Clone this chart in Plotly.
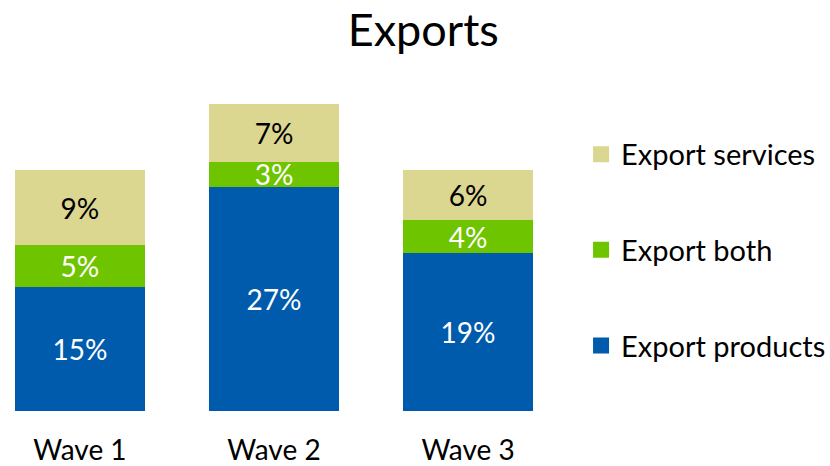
import plotly.graph_objects as go

waves = ["Wave 1", "Wave 2", "Wave 3"]
export_products = [15, 27, 19]
export_both = [5, 3, 4]
export_services = [9, 7, 6]

series = [
    ("Export products", export_products, "#005BAC", "white", 3),
    ("Export both", export_both, "#6FC400", "white", 2),
    ("Export services", export_services, "#DBD690", "black", 1),
]

FONT = "Lato, Calibri, sans-serif"

fig = go.Figure()
for name, vals, color, txtcolor, rank in series:
    fig.add_trace(go.Bar(
        x=waves, y=vals, name=name,
        marker=dict(color=color, line=dict(width=0)),
        text=[f"{v}%" for v in vals],
        textposition="inside", insidetextanchor="middle",
        textfont=dict(color=txtcolor, size=28, family=FONT),
        constraintext="none",
        width=0.67,
        showlegend=False,
        legendgroup=name,
    ))
    # legend entry with a larger square swatch
    fig.add_trace(go.Scatter(
        x=[None], y=[None], mode="markers", name=name,
        marker=dict(symbol="square", size=16, color=color),
        legendgroup=name, legendrank=rank, showlegend=True,
    ))

fig.update_layout(
    barmode="stack",
    width=830, height=466,
    margin=dict(l=0, r=270, t=79, b=55, autoexpand=False),
    paper_bgcolor="white", plot_bgcolor="white",
    font=dict(family=FONT, size=28, color="black"),
    title=dict(text="Exports", x=0.51, xanchor="center", y=0.935, yanchor="middle",
               font=dict(size=45, family=FONT, color="black")),
    xaxis=dict(range=[-0.412, 2.474], showgrid=False, showline=False, automargin=False,
               ticks="outside", ticklen=14, tickcolor="rgba(0,0,0,0)",
               tickfont=dict(size=28, family=FONT)),
    yaxis=dict(range=[0, 40], visible=False, automargin=False),
    uniformtext=dict(minsize=10, mode="show"),
    legend=dict(traceorder="grouped", x=1.0376, xanchor="left",
                y=0.484, yanchor="middle",
                tracegroupgap=55, font=dict(size=29, family=FONT), itemwidth=30),
    showlegend=True,
)

fig.write_html("out.html")
